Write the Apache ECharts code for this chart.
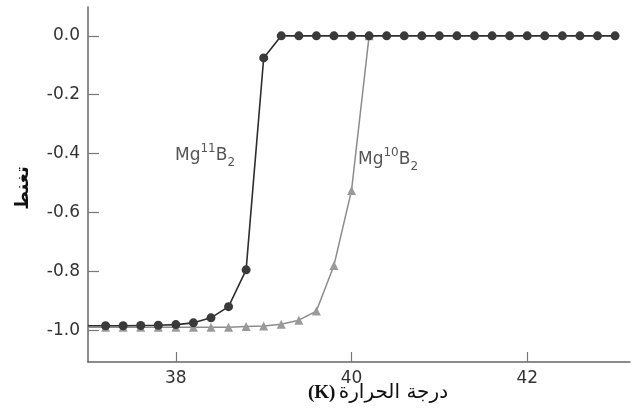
<!DOCTYPE html>
<html>
<head>
<meta charset="utf-8">
<script src="https://cdn.jsdelivr.net/npm/echarts@6/dist/echarts.min.js"></script>
<style>html,body{margin:0;padding:0;background:#fff;}#c{width:640px;height:411px;}</style>
</head>
<body>
<div id="c"></div>
<script>
// Temperature (K)
const temps11 = [37.0,37.2,37.4,37.6,37.8,38.0,38.2,38.4,38.6,38.8,39.0,39.2,39.4,39.6,39.8,40.0,40.2,40.4,40.6,40.8,41.0,41.2,41.4,41.6,41.8,42.0,42.2,42.4,42.6,42.8,43.0];
const mag11 = [-0.985,-0.985,-0.985,-0.984,-0.983,-0.981,-0.975,-0.958,-0.92,-0.795,-0.075,0,0,0,0,0,0,0,0,0,0,0,0,0,0,0,0,0,0,0,0];
const temps10 = [37.0,37.2,37.4,37.6,37.8,38.0,38.2,38.4,38.6,38.8,39.0,39.2,39.4,39.6,39.8,40.0,40.2];
const mag10 = [-0.99,-0.99,-0.99,-0.99,-0.99,-0.99,-0.99,-0.99,-0.99,-0.987,-0.986,-0.98,-0.966,-0.935,-0.78,-0.525,0];
const yTicks = [0,-0.2,-0.4,-0.6,-0.8,-1.0];
const xTicks = [38,40,42];
const yTitle = 'تغنط';
const xTitleUnit = '(K)';
const xTitleText = 'درجة الحرارة';

function pts(xs, ys){
  return xs.map((x,i)=>({value:[x,ys[i]], symbolSize: i===0?0:9}));
}

const chart = echarts.init(document.getElementById('c'), null, {renderer:'canvas'});
const labelFont = 'DejaVu Sans';
chart.setOption({
  animation:false,
  backgroundColor:'#fff',
  grid:{left:88, right:10, top:7, bottom:49},
  xAxis:{
    type:'value', min:37, max:43.17,
    axisLine:{onZero:false, lineStyle:{color:'#666', width:1.5}},
    axisTick:{show:true, inside:true, length:10, lineStyle:{color:'#777', width:1.2}, customValues:xTicks},
    axisLabel:{customValues:xTicks, color:'#333', fontFamily:labelFont, fontSize:17, margin:8},
    splitLine:{show:false}
  },
  yAxis:{
    type:'value', min:-1.108, max:0.098,
    axisLine:{show:true, onZero:false, lineStyle:{color:'#666', width:1.5}},
    axisTick:{show:true, inside:true, length:11, lineStyle:{color:'#777', width:1.2}, customValues:yTicks},
    axisLabel:{customValues:yTicks, color:'#333', fontFamily:labelFont, fontSize:17, margin:8,
      formatter:v=>v.toFixed(1)},
    splitLine:{show:false}
  },
  series:[
    {
      name:'Mg10B2', type:'line', data:pts(temps10, mag10),
      symbol:'triangle', z:2,
      lineStyle:{color:'#8c8c8c', width:1.5},
      itemStyle:{color:'#9a9a9a'}
    },
    {
      name:'Mg11B2', type:'line', data:pts(temps11, mag11),
      symbol:'circle', z:3,
      lineStyle:{color:'#2e2e2e', width:1.6},
      itemStyle:{color:'#3a3a3a'}
    }
  ],
  graphic:[
    {type:'text', left:175, top:143, style:{
      text:'{a|Mg}{s|11}{a|B}{b|2}',
      rich:{
        a:{fontSize:17, fontFamily:labelFont, fill:'#555', lineHeight:26, verticalAlign:'middle'},
        s:{fontSize:12, fontFamily:labelFont, fill:'#555', lineHeight:12, verticalAlign:'top'},
        b:{fontSize:12, fontFamily:labelFont, fill:'#555', lineHeight:12, verticalAlign:'bottom'}
      }}},
    {type:'text', left:358, top:147, style:{
      text:'{a|Mg}{s|10}{a|B}{b|2}',
      rich:{
        a:{fontSize:17, fontFamily:labelFont, fill:'#555', lineHeight:26, verticalAlign:'middle'},
        s:{fontSize:12, fontFamily:labelFont, fill:'#555', lineHeight:12, verticalAlign:'top'},
        b:{fontSize:12, fontFamily:labelFont, fill:'#555', lineHeight:12, verticalAlign:'bottom'}
      }}},
    {type:'text', x:23, y:188, rotation:Math.PI/2, style:{
      text:yTitle, fontSize:18, fontWeight:'bold', fontFamily:'DejaVu Sans', fill:'#111',
      align:'center', verticalAlign:'middle'}},
    {type:'text', x:378, y:393, style:{
      text:'{k|'+xTitleUnit+'} {t|'+xTitleText+'}',
      align:'center', verticalAlign:'middle',
      rich:{
        k:{fontSize:19, fontWeight:'bold', fontFamily:'Liberation Serif', fill:'#111'},
        t:{fontSize:20, fontFamily:'DejaVu Sans', fill:'#111'}
      }}}
  ]
});
</script>
</body>
</html>
